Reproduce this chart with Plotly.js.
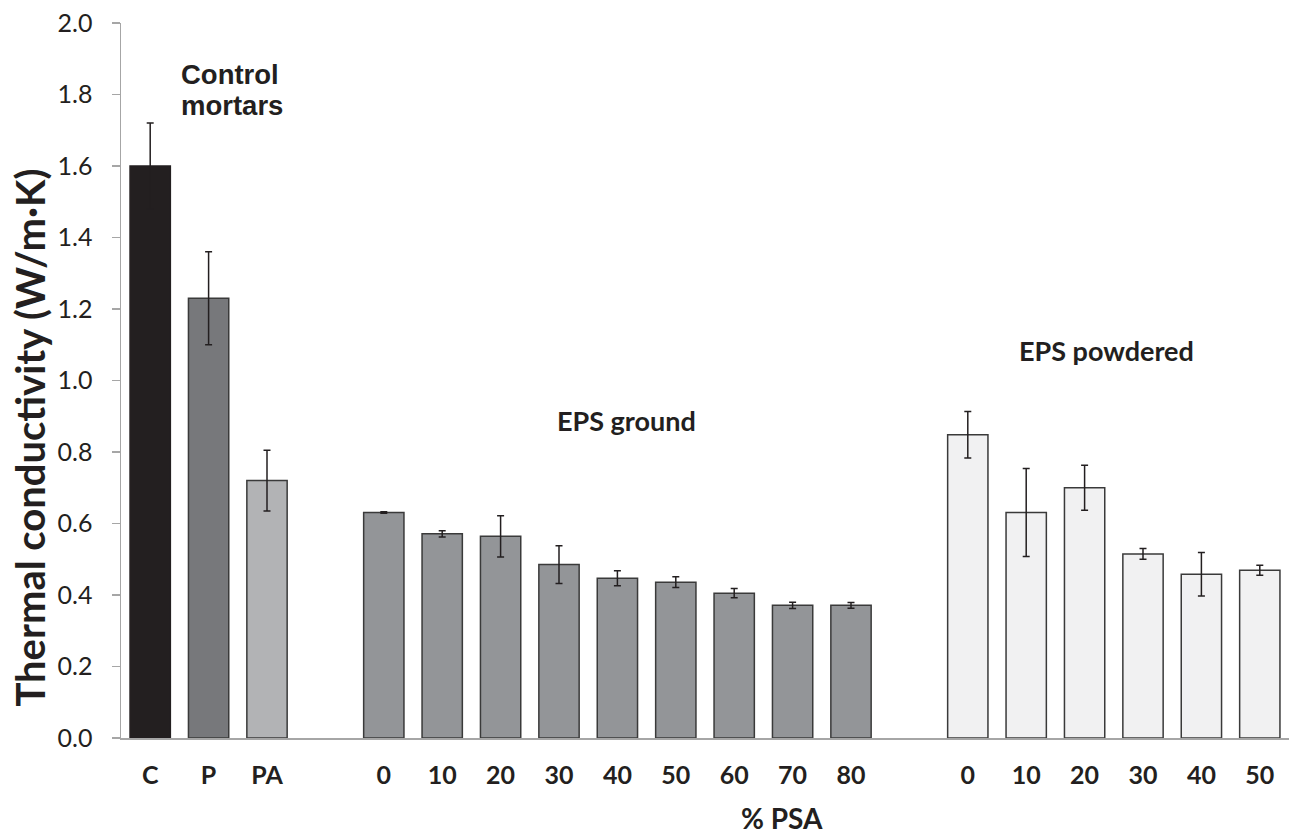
<!DOCTYPE html>
<html>
<head>
<meta charset="utf-8">
<script src="https://cdn.plot.ly/plotly-3.0.1.min.js"></script>
<style>html,body{margin:0;padding:0;background:#fff;}#chart{width:1295px;height:839px;}</style>
</head>
<body>
<div id="chart"></div>
<script>
// ---- data ----
const controlCats = ['C', 'P', 'PA'];
const controlValues = [1.60, 1.23, 0.72];
const controlErrors = [0.12, 0.13, 0.085];

const groundCats = ['0', '10', '20', '30', '40', '50', '60', '70', '80'];
const groundValues = [0.631, 0.571, 0.564, 0.485, 0.447, 0.436, 0.405, 0.371, 0.371];
const groundErrors = [0.002, 0.009, 0.058, 0.053, 0.021, 0.015, 0.013, 0.009, 0.008];

const powderCats = ['0', '10', '20', '30', '40', '50'];
const powderValues = [0.848, 0.631, 0.700, 0.515, 0.458, 0.469];
const powderErrors = [0.065, 0.123, 0.063, 0.015, 0.061, 0.014];

const groupLabels = ['Control<br>mortars', 'EPS ground', 'EPS powdered'];
const yTitle = 'Thermal conductivity (W/m·K)';
const xTitle = '% PSA';

// ---- positions (one empty slot between groups) ----
const controlX = controlCats.map((_, i) => i);
const groundX = groundCats.map((_, i) => controlCats.length + 1 + i);
const powderX = powderCats.map((_, i) => controlCats.length + 1 + groundCats.length + 1 + i);

const controlColors = ['#231f20', '#77787b', '#b2b3b5'];
const controlLines = ['#231f20', '#3a3a3a', '#3a3a3a'];

const errStyle = {type: 'data', visible: true, color: '#231f20', thickness: 1.5, width: 3.5};

const traces = [
  {
    type: 'bar', x: controlX, y: controlValues, width: 0.69,
    marker: {color: controlColors, line: {color: controlLines, width: 1.5}},
    error_y: Object.assign({array: controlErrors}, errStyle),
    hoverinfo: 'y'
  },
  {
    type: 'bar', x: groundX, y: groundValues, width: 0.69,
    marker: {color: '#939598', line: {color: '#3a3a3a', width: 1.5}},
    error_y: Object.assign({array: groundErrors}, errStyle),
    hoverinfo: 'y'
  },
  {
    type: 'bar', x: powderX, y: powderValues, width: 0.69,
    marker: {color: '#f1f1f2', line: {color: '#3a3a3a', width: 1.5}},
    error_y: Object.assign({array: powderErrors}, errStyle),
    hoverinfo: 'y'
  }
];

const fam = 'Lato, "DejaVu Sans", sans-serif';
const ink = '#231f20';
const controlLines2 = groupLabels[0].split('<br>');

const layout = {
  width: 1295, height: 839,
  margin: {l: 121, r: 6, t: 23, b: 101},
  paper_bgcolor: '#ffffff', plot_bgcolor: '#ffffff',
  showlegend: false,
  xaxis: {
    range: [-0.5, controlCats.length + groundCats.length + powderCats.length + 2 - 0.5],
    tickvals: controlX.concat(groundX, powderX),
    ticktext: controlCats.concat(groundCats, powderCats),
    ticks: '', showgrid: false, zeroline: false,
    showline: true, linecolor: '#a6a6a6', linewidth: 1.5,
    tickfont: {family: fam, size: 25, color: ink, weight: 'bold'},
    ticklabelstandoff: 14,
    fixedrange: true
  },
  yaxis: {
    range: [0, 2.0], dtick: 0.2, tick0: 0, tickformat: '.1f',
    ticks: 'outside', ticklen: 8, tickwidth: 1.5, tickcolor: '#a6a6a6',
    showline: true, linecolor: '#a6a6a6', linewidth: 1.5,
    showgrid: false, zeroline: false,
    tickfont: {family: fam, size: 25, color: ink},
    ticklabelstandoff: 14,
    fixedrange: true
  },
  annotations: [
    {
      text: '<b>' + controlLines2[0] + '</b>', xref: 'x', yref: 'y',
      x: 0.49, y: 1.855, xanchor: 'left', yanchor: 'middle', align: 'left', showarrow: false,
      font: {family: '"Liberation Sans", Arial, sans-serif', size: 27.5, color: ink}
    },
    {
      text: '<b>' + controlLines2[1] + '</b>', xref: 'x', yref: 'y',
      x: 0.49, y: 1.768, xanchor: 'left', yanchor: 'middle', align: 'left', showarrow: false,
      font: {family: '"Liberation Sans", Arial, sans-serif', size: 27.5, color: ink}
    },
    {
      text: '<b>' + groupLabels[1] + '</b>', xref: 'x', yref: 'y',
      x: 8.15, y: 0.889, xanchor: 'center', yanchor: 'middle', showarrow: false,
      font: {family: fam, size: 27, color: ink}
    },
    {
      text: '<b>' + groupLabels[2] + '</b>', xref: 'x', yref: 'y',
      x: 16.37, y: 1.083, xanchor: 'center', yanchor: 'middle', showarrow: false,
      font: {family: fam, size: 27, color: ink}
    },
    {
      text: '<b>' + yTitle + '</b>', xref: 'paper', yref: 'paper',
      x: -0.078, y: 0.42, xanchor: 'center', yanchor: 'middle', textangle: -90, showarrow: false,
      font: {family: fam, size: 40, color: ink}
    },
    {
      text: '<b>' + xTitle + '</b>', xref: 'paper', yref: 'paper',
      x: 0.566, y: -0.112, xanchor: 'center', yanchor: 'middle', showarrow: false,
      font: {family: fam, size: 28, color: ink}
    }
  ]
};

Plotly.newPlot('chart', traces, layout, {displayModeBar: false, staticPlot: true});
</script>
</body>
</html>
